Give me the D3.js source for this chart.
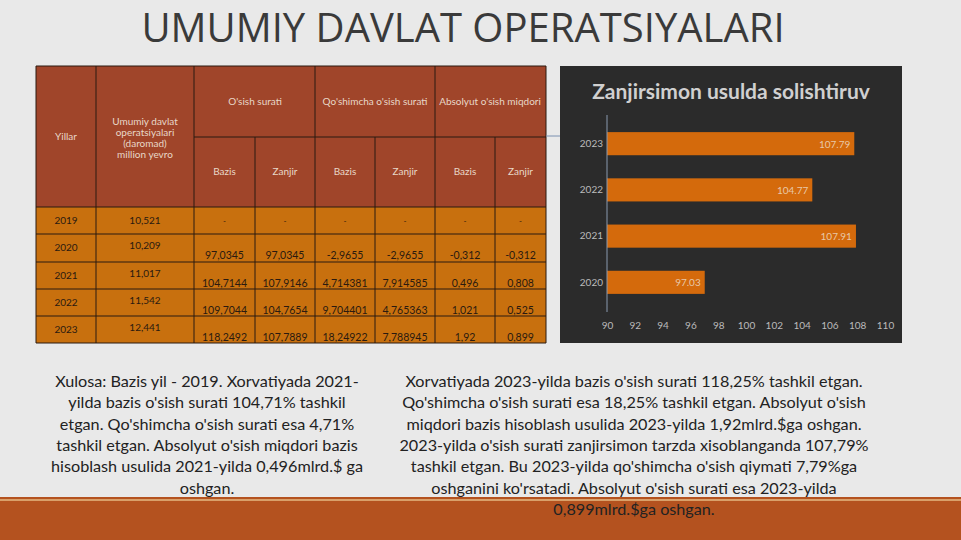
<!DOCTYPE html><html><head><meta charset="utf-8"><script src="https://cdn.jsdelivr.net/npm/d3@7"></script>
<style>body{margin:0;background:#e9e9e9;font-family:Lato,'Open Sans',sans-serif}</style></head><body>
<svg id="s" width="961" height="540"></svg>
<script>
const years=["2019","2020","2021","2022","2023"];
const income=["10,521","10,209","11,017","11,542","12,441"];
const osishBazis=["-","97,0345","104,7144","109,7044","118,2492"];
const osishZanjir=["-","97,0345","107,9146","104,7654","107,7889"];
const qoshBazis=["-","-2,9655","4,714381","9,704401","18,24922"];
const qoshZanjir=["-","-2,9655","7,914585","4,765363","7,788945"];
const absBazis=["-","-0,312","0,496","1,021","1,92"];
const absZanjir=["-","-0,312","0,808","0,525","0,899"];
const chartYears=["2020","2021","2022","2023"];
const chainValues=[97.03,107.91,104.77,107.79];
const xTicks=[90,92,94,96,98,100,102,104,106,108,110];

const svg=d3.select("#s");
svg.append("rect").attr("width",961).attr("height",540).attr("fill","#e9e9e9");
svg.append("text").attr("x",463).attr("y",42).attr("text-anchor","middle").attr("font-size",40).attr("fill","#3a3a3a").attr("font-family","'Open Sans',sans-serif").text("UMUMIY DAVLAT OPERATSIYALARI");
svg.append("rect").attr("x",0).attr("y",497).attr("width",961).attr("height",43).attr("fill","#b4521f");
svg.append("rect").attr("x",0).attr("y",499).attr("width",961).attr("height",2).attr("fill","#d9a06a");

const cols=[36,96,194,255,315,375,435,495,546];
const rowY=[207,234,262,289,316,343];
const T=svg.append("g").attr("font-family","Lato,sans-serif");
T.append("rect").attr("x",36).attr("y",66).attr("width",510).attr("height",141).attr("fill","#a0452a");
T.append("rect").attr("x",36).attr("y",207).attr("width",510).attr("height",136).attr("fill","#c8700e");
const ln=(x1,y1,x2,y2)=>T.append("line").attr("x1",x1).attr("y1",y1).attr("x2",x2).attr("y2",y2).attr("stroke","#2a1a10").attr("stroke-width",1);
rowY.forEach(y=>ln(36,y,546,y)); ln(36,66,546,66); ln(194,137,546,137);
cols.forEach((x,i)=>{ if(i==0||i==1||i==2||i==4||i==6||i==8) ln(x,66,x,343); else ln(x,137,x,343);});
const tx=(x,y,s,sz,c)=>T.append("text").attr("x",x).attr("y",y).attr("text-anchor","middle").attr("font-size",sz).attr("fill",c).text(s);
const hc="#e8d8c8";
tx(66,140,"Yillar",10,hc);
["Umumiy davlat","operatsiyalari","(daromad)","million yevro"].forEach((s,i)=>tx(145,125+i*11,s,10,hc));
tx(255,105,"O'sish surati",10,hc);tx(375,105,"Qo'shimcha o'sish surati",10,hc);tx(490,105,"Absolyut o'sish miqdori",10,hc);
for(let i=2;i<8;i++) tx((cols[i]+cols[i+1])/2,175,i%2==0?"Bazis":"Zanjir",10,hc);
const dc="#2a1a10";
const cols2=[osishBazis,osishZanjir,qoshBazis,qoshZanjir,absBazis,absZanjir];
years.forEach((y,r)=>{
  const top=rowY[r];
  tx(66,top+17,y,10,dc); tx(145,top+(r==0?17:15),income[r],10,dc);
  cols2.forEach((arr,c)=>tx((cols[c+2]+cols[c+3])/2,r==0?top+17:top+25,arr[r],r==0?8:10.5,dc));
});

const C=svg.append("g");
C.append("rect").attr("x",560).attr("y",66).attr("width",342).attr("height",277).attr("fill","#2b2b2b");
C.append("text").attr("x",731).attr("y",99).attr("text-anchor","middle").attr("font-size",21).attr("font-weight","bold").attr("fill","#d0d0d0").text("Zanjirsimon usulda solishtiruv");
const x=d3.scaleLinear().domain([90,110]).range([607,885]);
const y=d3.scaleBand().domain(chartYears.slice().reverse()).range([109,317]).padding(0.5);
C.selectAll("rect.b").data(chainValues).join("rect").attr("class","b").attr("x",x(90)).attr("y",(d,i)=>y(chartYears[i])).attr("width",d=>x(d)-x(90)).attr("height",y.bandwidth()).attr("fill","#d46a0c");
C.selectAll("text.v").data(chainValues).join("text").attr("class","v").attr("x",d=>x(d)-4).attr("y",(d,i)=>y(chartYears[i])+y.bandwidth()/2+4).attr("text-anchor","end").attr("font-size",10).attr("fill","#e8c8a8").text(d=>d.toFixed(2));
C.append("line").attr("x1",x(90)).attr("x2",x(90)).attr("y1",115).attr("y2",312).attr("stroke","#8a9ab0");
const ax=C.append("g").attr("transform","translate(0,318)").call(d3.axisBottom(x).tickValues(xTicks).tickSize(0).tickPadding(4));
ax.select(".domain").remove();ax.selectAll("text").attr("fill","#bbb").attr("font-size",10).attr("font-family","Lato");
const ay=C.append("g").attr("transform",`translate(${x(90)-2},0)`).call(d3.axisLeft(y).tickSize(0).tickPadding(2));
ay.select(".domain").remove();ay.selectAll("text").attr("fill","#bbb").attr("font-size",10).attr("font-family","Lato");
svg.append("line").attr("x1",546).attr("x2",560).attr("y1",136).attr("y2",136).attr("stroke","#7a90b0");

const left=["Xulosa: Bazis yil - 2019. Xorvatiyada 2021-","yilda bazis o'sish surati 104,71% tashkil","etgan. Qo'shimcha o'sish surati esa 4,71%","tashkil etgan. Absolyut o'sish miqdori bazis","hisoblash usulida 2021-yilda 0,496mlrd.$ ga","oshgan."];
const right=["Xorvatiyada 2023-yilda bazis o'sish surati 118,25% tashkil etgan.","Qo'shimcha o'sish surati esa 18,25% tashkil etgan. Absolyut o'sish","miqdori bazis hisoblash usulida 2023-yilda 1,92mlrd.$ga oshgan.","2023-yilda o'sish surati zanjirsimon tarzda xisoblanganda 107,79%","tashkil etgan. Bu 2023-yilda qo'shimcha o'sish qiymati 7,79%ga","oshganini ko'rsatadi. Absolyut o'sish surati esa 2023-yilda","0,899mlrd.$ga oshgan."];
left.forEach((s,i)=>svg.append("text").attr("x",207).attr("y",387+i*21.3).attr("text-anchor","middle").attr("font-size",16.2).attr("fill","#222").text(s));
right.forEach((s,i)=>svg.append("text").attr("x",634).attr("y",387+i*21.3).attr("text-anchor","middle").attr("font-size",16.2).attr("fill","#222").text(s));
</script></body></html>
